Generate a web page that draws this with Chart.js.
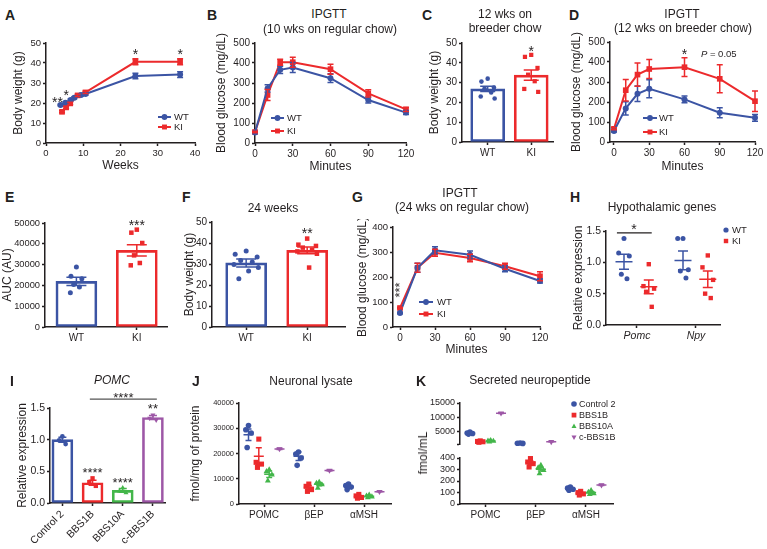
<!DOCTYPE html>
<html>
<head>
<meta charset="utf-8">
<title>Figure</title>
<script src="https://cdn.jsdelivr.net/npm/chart.js@4.4.1/dist/chart.umd.min.js"></script>
<style>
  html, body { margin: 0; padding: 0; background: #ffffff; }
  body { position: relative; width: 767px; height: 549px; overflow: hidden;
         font-family: "Liberation Sans", Arial, Helvetica, sans-serif; color: #231f20; }
  canvas { position: absolute; }
  .t { position: absolute; white-space: nowrap; font-size: 12px; line-height: 1; transform: translate(-50%, -50%); }
  .v { transform: translate(-50%, -50%) rotate(-90deg); }
  .p { position: absolute; font-weight: bold; font-size: 14px; line-height: 1; }
</style>
</head>
<body>
<script>
/* ================= DATA ================= */
const seriesNames = ['WT', 'KI'];
// A : body weight over time
const A_xTicks = [0, 10, 20, 30, 40];
const A_yTicks = [0, 10, 20, 30, 40, 50];
const A_weeksWT = [3.9, 5.2, 6.6, 7.6, 9.4, 10.6, 24, 36];
const A_bwWT    = [19.0, 20.1, 21.5, 22.6, 24.0, 24.5, 33.5, 34.2];
const A_semWT   = [0.4, 0.5, 0.5, 0.5, 0.5, 0.6, 1.4, 1.4];
const A_weeksKI = [4.3, 5.4, 6.5, 8.5, 10.6, 24, 36];
const A_bwKI    = [15.6, 17.8, 19.8, 23.8, 25.3, 40.6, 40.6];
const A_semKI   = [0.5, 0.6, 0.6, 0.6, 0.6, 1.5, 1.5];
// B : IPGTT 10 wks regular chow
const minTicks = [0, 30, 60, 90, 120];
const B_yTicks = [0, 100, 200, 300, 400, 500];
const B_min   = [0, 10, 20, 30, 60, 90, 120];
const B_WT    = [52, 273, 366, 377, 324, 215, 152];
const B_WTsem = [4, 18, 18, 25, 22, 15, 10];
const B_KI    = [55, 240, 404, 404, 369, 248, 168];
const B_KIsem = [4, 28, 15, 25, 25, 18, 10];
// C : body weight 12 wks breeder chow
const C_yTicks = [0, 10, 20, 30, 40, 50];
const C_mean = [26.8, 33.8];
const C_sem  = [1.3, 2.6];
const C_ptsWT = [32.0, 30.5, 27.5, 27.0, 25.0, 23.0, 22.0];
const C_ptsKI = [44.0, 43.0, 37.4, 34.0, 30.7, 26.8, 25.3];
// D : IPGTT 12 wks breeder chow
const D_yTicks = [0, 100, 200, 300, 400, 500];
const D_min   = [0, 10, 20, 30, 60, 90, 120];
const D_WT    = [55, 168, 241, 266, 213, 146, 121];
const D_WTsem = [5, 33, 39, 45, 17, 25, 17];
const D_KI    = [66, 259, 337, 365, 374, 316, 204];
const D_KIsem = [5, 54, 58, 47, 47, 70, 51];
// E : AUC
const E_yTicks = [0, 10000, 20000, 30000, 40000, 50000];
const E_mean = [21950, 36860];
const E_sem  = [2000, 2700];
const E_ptsWT = [28800, 24400, 23200, 20400, 19200, 16500];
const E_ptsKI = [46800, 45350, 40380, 34450, 30770, 29650];
// F : body weight 24 weeks
const F_yTicks = [0, 10, 20, 30, 40, 50];
const F_mean = [30.5, 36.5];
const F_sem  = [1.9, 1.6];
const F_ptsWT = [36.2, 34.6, 33.3, 31.7, 31.0, 29.8, 28.3, 26.7, 23.0];
const F_ptsKI = [42.1, 39.2, 38.6, 37.8, 36.8, 36.0, 34.9, 28.3];
// G : IPGTT 24 wks regular chow
const G_yTicks = [0, 100, 200, 300, 400];
const G_min   = [0, 15, 30, 60, 90, 120];
const G_WT    = [56, 237, 307, 289, 233, 184];
const G_WTsem = [3, 18, 14, 15, 12, 8];
const G_KI    = [76, 237, 297, 276, 243, 203];
const G_KIsem = [3, 18, 14, 15, 12, 18];
// H : hypothalamic genes
const H_genes  = ['Pomc', 'Npy'];
const H_yTicks = [0, 0.5, 1.0, 1.5];
const H_WTmean = [1.01, 1.03];
const H_WTsem  = [0.12, 0.15];
const H_KImean = [0.61, 0.73];
const H_KIsem  = [0.11, 0.13];
const H_WTpts = [[1.38, 1.15, 1.10, 0.81, 0.74], [1.38, 1.38, 0.88, 0.86, 0.75]];
const H_KIpts = [[0.97, 0.62, 0.58, 0.53, 0.29], [1.11, 0.92, 0.72, 0.50, 0.43]];
// I : POMC expression
const I_groups = ['Control 2', 'BBS1B', 'BBS10A', 'c-BBS1B'];
const I_yTicks = [0, 0.5, 1.0, 1.5];
const I_mean = [1.00, 0.32, 0.20, 1.35];
const I_sem  = [0.04, 0.04, 0.03, 0.03];
const I_pts  = [[1.05, 0.99, 0.93], [0.39, 0.33, 0.27], [0.24, 0.19, 0.16], [1.39, 1.34, 1.31]];
// J : neuronal lysate (rows = Control 2, BBS1B, BBS10A, c-BBS1B ; cols = POMC, βEP, αMSH)
const peptides = ['POMC', 'βEP', 'αMSH'];
const J_yTicks = [0, 10000, 20000, 30000, 40000];
const J_mean = [[27400, 18900, 6900], [18900, 6600, 3000], [11800, 7800, 3100], [21800, 13300, 4900]];
const J_sem  = [[2300, 1700, 450], [3400, 700, 350], [1300, 550, 250], [250, 250, 150]];
const J_pts = [
  [[31100, 29400, 28100, 22400], [20600, 19800, 18200, 15300], [7900, 7300, 6700, 5700]],
  [[25700, 16500, 15800, 14500], [7900, 7000, 5700, 5000], [3800, 3200, 2600, 2300]],
  [[13600, 12900, 11600, 9200], [8700, 8300, 7700, 6300], [3600, 3200, 2900, 2600]],
  [[21800], [13300], [4900]]
];
// K : secreted neuropeptide (broken axis)
const K_upTicks = [500, 5000, 10000, 15000];
const K_loTicks = [0, 100, 200, 300, 400];
const K_mean = [[4330, 783, 133], [1350, 358, 94], [1550, 302, 99], [11400, 1300, 165]];
const K_sem  = [[150, 40, 6], [100, 15, 7], [100, 16, 8], [150, 60, 4]];
const K_pts = [
  [[4700, 4400, 4200, 4000], [850, 780, 720], [148, 138, 128, 119]],
  [[1600, 1400, 1300, 1100], [395, 365, 351, 322], [110, 99, 88, 78]],
  [[1800, 1600, 1500, 1300], [337, 316, 293, 264], [119, 104, 91, 84]],
  [[11400], [1300], [165]]
];

/* ================= STYLE / HELPERS ================= */
const INK = '#231f20';
const BLUE = '#3b54a4', RED = '#ec2a2c', GREEN = '#43b64a', PURPLE = '#9d57a6';
const FONT = '"Liberation Sans", Arial, Helvetica, sans-serif';
Chart.defaults.font.family = FONT;
Chart.defaults.font.size = 10;
Chart.defaults.color = INK;

const JIT = [0, -0.9, 0.9, -0.45, 0.5, -1, 1, 0.2, -0.6];

function xy(xv, yv) { return xv.map((x, i) => ({ x: x, y: yv[i] })); }

function drawMarker(ctx, shape, x, y, r, color) {
  ctx.fillStyle = color;
  ctx.beginPath();
  if (shape === 'rect') ctx.rect(x - r * 0.85, y - r * 0.85, r * 1.7, r * 1.7);
  else if (shape === 'triangle') { ctx.moveTo(x, y - r); ctx.lineTo(x + r * 0.9, y + r * 0.6); ctx.lineTo(x - r * 0.9, y + r * 0.6); ctx.closePath(); }
  else if (shape === 'triangleDown') { ctx.moveTo(x, y + r); ctx.lineTo(x + r * 0.9, y - r * 0.6); ctx.lineTo(x - r * 0.9, y - r * 0.6); ctx.closePath(); }
  else ctx.arc(x, y, r, 0, Math.PI * 2);
  ctx.fill();
}

function decor(d, L, T) {
  return {
    id: 'decor',
    afterDatasetsDraw(chart) {
      const ctx = chart.ctx, xs = chart.scales.x, ys = chart.scales.y;
      ctx.save();
      chart.data.datasets.forEach((ds) => {
        if (!ds.errs) return;
        ds.data.forEach((p, j) => {
          const x = xs.getPixelForValue(p.x);
          const e = ds.errs[j];
          const y1 = ys.getPixelForValue(p.y + e), y2 = ys.getPixelForValue(p.y - e), ym = ys.getPixelForValue(p.y);
          const c = ds.capW / 2;
          ctx.strokeStyle = Array.isArray(ds.borderColor) ? ds.borderColor[j] : ds.borderColor;
          ctx.lineWidth = 1.5;
          ctx.beginPath();
          ctx.moveTo(x, y1); ctx.lineTo(x, y2);
          ctx.moveTo(x - c, y1); ctx.lineTo(x + c, y1);
          ctx.moveTo(x - c, y2); ctx.lineTo(x + c, y2);
          if (ds.meanW) { ctx.moveTo(x - ds.meanW / 2, ym); ctx.lineTo(x + ds.meanW / 2, ym); }
          ctx.stroke();
        });
      });
      (d.lines || []).forEach((l) => {
        const y = ys.getPixelForValue(l.y);
        ctx.strokeStyle = l.color || INK; ctx.lineWidth = 1.2;
        ctx.beginPath(); ctx.moveTo(xs.getPixelForValue(l.x1), y); ctx.lineTo(xs.getPixelForValue(l.x2), y); ctx.stroke();
      });
      (d.texts || []).forEach((t) => {
        const px = xs.getPixelForValue(t.x), py = ys.getPixelForValue(t.y);
        const sz = t.size || 14;
        ctx.save();
        ctx.translate(px, py);
        if (t.rot) ctx.rotate(t.rot);
        ctx.fillStyle = INK;
        if (t.parts) {
          ctx.textBaseline = 'middle'; ctx.textAlign = 'left';
          let cx = 0;
          t.parts.forEach((pp) => {
            ctx.font = (pp[1] ? pp[1] + ' ' : '') + sz + 'px ' + FONT;
            ctx.fillText(pp[0], cx, 0);
            cx += ctx.measureText(pp[0]).width;
          });
        } else {
          ctx.font = sz + 'px ' + FONT;
          ctx.textAlign = 'center'; ctx.textBaseline = 'alphabetic';
          ctx.fillText(t.t, 0, 0.56 * sz);
        }
        ctx.restore();
      });
      if (d.legend) {
        const lg = d.legend;
        lg.items.forEach((it, k) => {
          const y = lg.y + k * lg.dy - T;
          const x0 = lg.x - L;
          let mx = x0;
          if (lg.w) {
            ctx.strokeStyle = it.color; ctx.lineWidth = 2;
            ctx.beginPath(); ctx.moveTo(x0, y); ctx.lineTo(x0 + lg.w, y); ctx.stroke();
            mx = x0 + lg.w / 2;
          }
          drawMarker(ctx, it.shape, mx, y, lg.r || 2.9, it.color);
          ctx.fillStyle = INK; ctx.font = (lg.size || 9.5) + 'px ' + FONT;
          ctx.textAlign = 'left'; ctx.textBaseline = 'middle';
          ctx.fillText(it.label, lg.tx - L, y + 0.5);
        });
      }
      ctx.restore();
    }
  };
}

function axis(o) {
  const isY = o.axis === 'y';
  const tp = o.titlePad !== undefined ? o.titlePad : 2;
  return {
    type: 'linear', min: o.min, max: o.max, bounds: 'data', offset: false, display: o.display !== false,
    border: { display: true, color: INK, width: 1.5 },
    grid: { display: true, drawOnChartArea: false, drawTicks: true, offset: false, tickLength: 3, tickWidth: 1.5, tickColor: INK },
    ticks: {
      color: INK, padding: 2, autoSkip: false, maxRotation: o.rot || 0, minRotation: o.rot || 0,
      font: { size: o.size || 10, style: o.italic ? 'italic' : 'normal' },
      callback: o.fmt || ((v) => String(v))
    },
    title: o.title ? { display: true, text: o.title, color: INK, font: { size: 12 },
      padding: isY ? { top: tp, bottom: 0 } : { top: 0, bottom: 0 } } : { display: false },
    afterBuildTicks: (s) => { s.ticks = o.ticks.map((v) => ({ value: v })); },
    afterFit: (s) => {
      if (isY) { s.width = o.dim; s.paddingTop = 0; s.paddingBottom = 0; }
      else { s.height = o.dim; s.paddingLeft = 0; s.paddingRight = 0; }
    }
  };
}

function mk(box, type, datasets, xo, yo, d) {
  const W = box.yw + (box.r - box.l) + box.pr;
  const H = box.pt + (box.b - box.t) + box.xh;
  const L = box.l - box.yw, T = box.t - box.pt;
  const c = document.createElement('canvas');
  c.width = W; c.height = H;
  c.style.left = L + 'px'; c.style.top = T + 'px'; c.style.width = W + 'px'; c.style.height = H + 'px';
  document.body.appendChild(c);
  xo.axis = 'x'; xo.dim = box.xh; yo.axis = 'y'; yo.dim = box.yw;
  return new Chart(c, {
    type: type,
    data: { datasets: datasets },
    options: {
      responsive: false, maintainAspectRatio: false, animation: false, devicePixelRatio: 1, events: [],
      layout: { padding: { left: 0, top: box.pt, right: box.pr, bottom: 0 } },
      scales: { x: axis(xo), y: axis(yo) },
      plugins: { legend: { display: false }, tooltip: { enabled: false }, title: { display: false } }
    },
    plugins: [decor(d || {}, L, T)]
  });
}

function lineDS(xv, yv, errs, color, shape) {
  return { type: 'line', data: xy(xv, yv), errs: errs, capW: 6, borderColor: color, backgroundColor: color,
    borderWidth: 2, pointStyle: shape, pointRadius: shape === 'rect' ? 4 : 3, pointBorderWidth: 0,
    pointBackgroundColor: color, pointBorderColor: color, tension: 0, clip: false };
}
function ptsDS(xc, pts, color, shape, spread, r, rot) {
  return { type: 'scatter', data: pts.map((v, i) => ({ x: xc + JIT[i % JIT.length] * spread, y: v })),
    backgroundColor: color, borderColor: color, pointBackgroundColor: color, pointStyle: shape,
    pointRadius: r, pointRotation: rot || 0, pointBorderWidth: 0, clip: false };
}
function semDS(xv, means, sems, color, capW, meanW) {
  return { type: 'scatter', data: xy(xv, means), errs: sems, capW: capW, meanW: meanW,
    borderColor: color, pointRadius: 0, clip: false };
}
function barDS(xv, means, colors, thick) {
  return { type: 'bar', data: xy(xv, means), backgroundColor: 'rgba(255,255,255,0)', borderColor: colors,
    borderWidth: 2, borderSkipped: false, barThickness: thick, clip: false };
}

const SER_STYLE = [
  { color: BLUE, shape: 'circle', lshape: 'circle', rot: 0, off: -0.31, r: 2.8 },
  { color: RED, shape: 'rect', lshape: 'rect', rot: 0, off: -0.104, r: 3.6 },
  { color: GREEN, shape: 'triangle', lshape: 'triangle', rot: 0, off: 0.104, r: 3.4 },
  { color: PURPLE, shape: 'triangle', lshape: 'triangleDown', rot: 180, off: 0.31, r: 3.4 }
];
function groupSets(means, sems, pts, keep, spread) {
  const out = [];
  means.forEach((mRow, s) => {
    const st = SER_STYLE[s];
    const idx = mRow.map((m, c) => c).filter((c) => keep(mRow[c]));
    if (!idx.length) return;
    const ptData = [];
    idx.forEach((c) => pts[s][c].forEach((v, i) => ptData.push({ x: c + st.off + JIT[i % JIT.length] * spread, y: v })));
    out.push({ type: 'scatter', data: ptData, pointStyle: st.shape, pointRotation: st.rot, pointRadius: st.r,
      pointBorderWidth: 0, backgroundColor: st.color, pointBackgroundColor: st.color, borderColor: st.color, clip: false });
    out.push({ type: 'scatter', data: idx.map((c) => ({ x: c + st.off, y: mRow[c] })), errs: idx.map((c) => sems[s][c]),
      capW: 6, meanW: 10, borderColor: st.color, pointRadius: 0, clip: false });
  });
  return out;
}

const legWTKI = [{ label: seriesNames[0], color: BLUE, shape: 'circle' }, { label: seriesNames[1], color: RED, shape: 'rect' }];
const catWTKI = (v) => seriesNames[Math.round(v)];
const oneDec = (v) => v.toFixed(1);

/* ================= PANELS ================= */
// A
mk({ l: 46, r: 195, t: 43, b: 143, yw: 37, xh: 30, pt: 10, pr: 12 }, 'line',
  [lineDS(A_weeksWT, A_bwWT, A_semWT, BLUE, 'circle'), lineDS(A_weeksKI, A_bwKI, A_semKI, RED, 'rect')],
  { min: 0, max: 40, ticks: A_xTicks, title: 'Weeks', size: 9.5 },
  { min: 0, max: 50, ticks: A_yTicks, title: 'Body weight (g)', size: 9.5 },
  { texts: [{ x: 3.1, y: 22, t: '**' }, { x: 5.4, y: 25.2, t: '*' }, { x: 24, y: 46, t: '*' }, { x: 36, y: 46, t: '*' }],
    legend: { x: 158, w: 13, tx: 174, y: 117, dy: 10, size: 9.5, items: legWTKI } });

// B
mk({ l: 255, r: 406, t: 43, b: 143, yw: 43, xh: 31, pt: 10, pr: 12 }, 'line',
  [lineDS(B_min, B_WT, B_WTsem, BLUE, 'circle'), lineDS(B_min, B_KI, B_KIsem, RED, 'rect')],
  { min: 0, max: 120, ticks: minTicks, title: 'Minutes' },
  { min: 0, max: 500, ticks: B_yTicks, title: 'Blood glucose (mg/dL)' },
  { legend: { x: 271, w: 13, tx: 287, y: 118, dy: 13, size: 9.5, items: legWTKI } });

// C
mk({ l: 462, r: 553, t: 43, b: 142, yw: 37, xh: 22, pt: 10, pr: 6 }, 'bar',
  [barDS([0, 1], C_mean, [BLUE, RED], 34),
   ptsDS(0, C_ptsWT, BLUE, 'circle', 0.16, 2.3), ptsDS(1, C_ptsKI, RED, 'rect', 0.16, 3),
   semDS([0, 1], C_mean, C_sem, [BLUE, RED], 15, 0)],
  { min: -0.59, max: 1.5, ticks: [0, 1], fmt: catWTKI },
  { min: 0, max: 50, ticks: C_yTicks, title: 'Body weight (g)' },
  { texts: [{ x: 1, y: 47.6, t: '*' }] });

// D
mk({ l: 610, r: 755, t: 42, b: 142, yw: 43, xh: 32, pt: 10, pr: 10 }, 'line',
  [lineDS(D_min, D_WT, D_WTsem, BLUE, 'circle'), lineDS(D_min, D_KI, D_KIsem, RED, 'rect')],
  { min: -3.4, max: 120, ticks: minTicks, title: 'Minutes' },
  { min: 0, max: 500, ticks: D_yTicks, title: 'Blood glucose (mg/dL)' },
  { texts: [{ x: 60, y: 455, t: '*' }, { x: 74, y: 440, size: 9.5, parts: [['P', 'italic'], [' = 0.05', '']] }],
    legend: { x: 643, w: 14, tx: 659, y: 118, dy: 14, size: 9.5, items: legWTKI } });

// E
mk({ l: 45, r: 167, t: 223, b: 327, yw: 45, xh: 22, pt: 12, pr: 6 }, 'bar',
  [barDS([0, 1], E_mean, [BLUE, RED], 41),
   ptsDS(0, E_ptsWT, BLUE, 'circle', 0.1, 2.5), ptsDS(1, E_ptsKI, RED, 'rect', 0.1, 3.2),
   semDS([0, 1], E_mean, E_sem, [BLUE, RED], 20, 0)],
  { min: -0.52, max: 1.5, ticks: [0, 1], fmt: catWTKI },
  { min: 0, max: 50000, ticks: E_yTicks, title: 'AUC (AU)', size: 9.3, titlePad: 0.5 },
  { texts: [{ x: 1, y: 50600, t: '***' }] });

// F
mk({ l: 212, r: 345, t: 222, b: 327, yw: 32, xh: 22, pt: 12, pr: 6 }, 'bar',
  [barDS([0, 1], F_mean, [BLUE, RED], 41),
   ptsDS(0, F_ptsWT, BLUE, 'circle', 0.2, 2.5), ptsDS(1, F_ptsKI, RED, 'rect', 0.16, 3.2),
   semDS([0, 1], F_mean, F_sem, [BLUE, RED], 20, 0)],
  { min: -0.56, max: 1.62, ticks: [0, 1], fmt: catWTKI },
  { min: 0, max: 50, ticks: F_yTicks, title: 'Body weight (g)' },
  { texts: [{ x: 1, y: 46.2, t: '**' }] });

// G
mk({ l: 393, r: 540, t: 227, b: 327, yw: 40, xh: 30, pt: 8, pr: 14 }, 'line',
  [lineDS(G_min, G_WT, G_WTsem, BLUE, 'circle'), lineDS(G_min, G_KI, G_KIsem, RED, 'rect')],
  { min: -6, max: 120, ticks: minTicks, title: 'Minutes' },
  { min: 0, max: 400, ticks: G_yTicks, title: 'Blood glucose (mg/dL)', size: 9.5 },
  { texts: [{ x: -2.6, y: 148, t: '***', size: 13, rot: -Math.PI / 2 }],
    legend: { x: 419, w: 14, tx: 437, y: 302, dy: 12, size: 9.5, items: legWTKI } });

// H
mk({ l: 606, r: 720, t: 231, b: 325, yw: 37, xh: 22, pt: 10, pr: 45 }, 'scatter',
  [ptsDS(-0.22, H_WTpts[0], BLUE, 'circle', 0.1, 2.5), ptsDS(0.78, H_WTpts[1], BLUE, 'circle', 0.1, 2.5),
   ptsDS(0.2, H_KIpts[0], RED, 'rect', 0.1, 3.1), ptsDS(1.2, H_KIpts[1], RED, 'rect', 0.1, 3.1),
   semDS([-0.22, 0.78], H_WTmean, H_WTsem, BLUE, 10, 17), semDS([0.2, 1.2], H_KImean, H_KIsem, RED, 10, 17)],
  { min: -0.525, max: 1.407, ticks: [0, 1], fmt: (v) => H_genes[Math.round(v)], italic: true, size: 10.5 },
  { min: 0, max: 1.5, ticks: H_yTicks, title: 'Relative expression', fmt: oneDec, size: 10.5 },
  { texts: [{ x: -0.05, y: 1.57, t: '*' }], lines: [{ x1: -0.34, x2: 0.25, y: 1.47 }],
    legend: { x: 726, w: 0, tx: 732, y: 230, dy: 11, size: 9.5, r: 2.6, items: legWTKI } });

// I
mk({ l: 50, r: 165, t: 408, b: 503, yw: 37, xh: 45, pt: 30, pr: 8 }, 'bar',
  [barDS([0, 1, 2, 3], I_mean, [BLUE, RED, GREEN, PURPLE], 21)]
    .concat(I_pts.map((p, g) => ptsDS(g, p, SER_STYLE[g].color, SER_STYLE[g].shape, 0.12, SER_STYLE[g].r * 0.85, SER_STYLE[g].rot)))
    .concat([semDS([0, 1, 2, 3], I_mean, I_sem, [BLUE, RED, GREEN, PURPLE], 8, 0)]),
  { min: -0.41, max: 3.4, ticks: [0, 1, 2, 3], fmt: (v) => I_groups[Math.round(v)], rot: 45, size: 10.5 },
  { min: 0, max: 1.5, ticks: I_yTicks, title: 'Relative expression', fmt: oneDec, size: 10.5 },
  { texts: [{ x: 1, y: 0.52, t: '****', size: 13 }, { x: 2, y: 0.37, t: '****', size: 13 },
            { x: 3, y: 1.54, t: '**', size: 13 }, { x: 2.02, y: 1.71, t: '****', size: 13 }],
    lines: [{ x1: 0.91, x2: 3.13, y: 1.64, color: '#555' }] });

// J
mk({ l: 239, r: 391, t: 403, b: 504, yw: 53, xh: 22, pt: 10, pr: 6 }, 'scatter',
  groupSets(J_mean, J_sem, J_pts, () => true, 0.06),
  { min: -0.5, max: 2.54, ticks: [0, 1, 2], fmt: (v) => peptides[Math.round(v)], size: 10 },
  { min: 0, max: 40000, ticks: J_yTicks, title: 'fmol/mg of protein', size: 7.5 }, {});

// K (broken y axis: upper and lower segments)
const K_BREAK = 450;
mk({ l: 460, r: 613, t: 403, b: 448, yw: 34, xh: 0, pt: 8, pr: 150 }, 'scatter',
  groupSets(K_mean, K_sem, K_pts, (m) => m >= K_BREAK, 0.06),
  { min: -0.507, max: 2.54, ticks: [0, 1, 2], display: false },
  { min: 500, max: 15000, ticks: K_upTicks, size: 9, fmt: (v) => (v === K_upTicks[0] ? '' : String(v)) },
  { legend: { x: 574, w: 0, tx: 579, y: 404, dy: 11.1, size: 9, r: 2.8,
      items: I_groups.map((n, i) => ({ label: n, color: SER_STYLE[i].color, shape: SER_STYLE[i].lshape })) } });
mk({ l: 460, r: 613, t: 458, b: 504, yw: 34, xh: 22, pt: 6, pr: 6 }, 'scatter',
  groupSets(K_mean, K_sem, K_pts, (m) => m < K_BREAK, 0.06),
  { min: -0.507, max: 2.54, ticks: [0, 1, 2], fmt: (v) => peptides[Math.round(v)], size: 10 },
  { min: 0, max: 400, ticks: K_loTicks, size: 9 }, {});

/* ================= HTML TEXT ================= */
function txt(s, x, y, cls, style) {
  const d = document.createElement('div');
  d.className = cls; d.textContent = s;
  d.style.left = x + 'px'; d.style.top = y + 'px';
  if (style) Object.assign(d.style, style);
  document.body.appendChild(d);
}
[['A', 5, 8], ['B', 207, 8], ['C', 422, 8], ['D', 569, 8], ['E', 5, 190], ['F', 182, 190], ['G', 352, 190],
 ['H', 570, 190], ['I', 10, 374], ['J', 192, 374], ['K', 416, 374]].forEach((p) => txt(p[0], p[1], p[2], 'p'));
txt('IPGTT', 329, 14, 't'); txt('(10 wks on regular chow)', 330, 29, 't');
txt('12 wks on', 505, 14, 't'); txt('breeder chow', 505, 28, 't');
txt('IPGTT', 682, 14, 't'); txt('(12 wks on breeder chow)', 683, 28, 't');
txt('24 weeks', 273, 208, 't');
txt('IPGTT', 460, 193, 't'); txt('(24 wks on regular chow)', 462, 207, 't');
txt('Hypothalamic genes', 662, 207, 't');
txt('POMC', 112, 380, 't', { fontStyle: 'italic' });
txt('Neuronal lysate', 311, 381, 't');
txt('Secreted neuropeptide', 530, 380, 't');
txt('fmol/mL', 423, 453, 't v');
</script>
</body>
</html>
